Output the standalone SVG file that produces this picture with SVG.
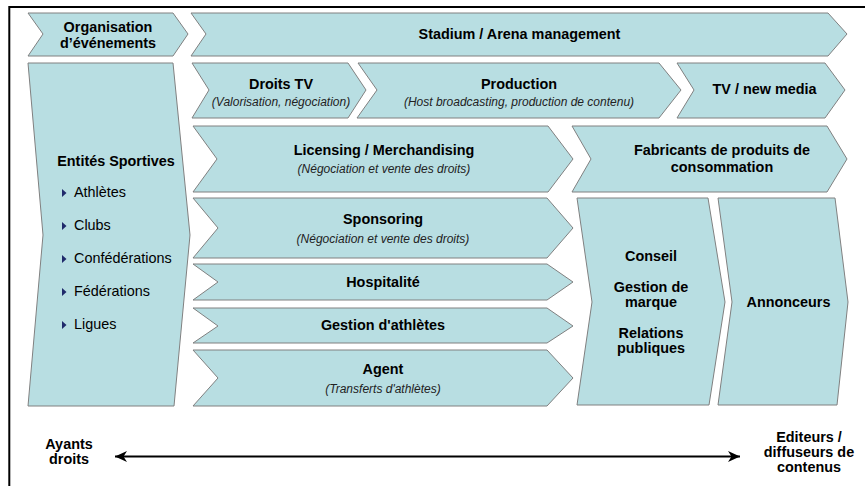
<svg xmlns="http://www.w3.org/2000/svg" width="865" height="486" viewBox="0 0 865 486">
<defs>
<style>
.s{fill:#B8DEE2;stroke:#808080;stroke-width:1}
text{font-family:"Liberation Sans",Arial,sans-serif;fill:#000}
.b{font-weight:bold;font-size:14.4px;text-anchor:middle}
.i{font-style:italic;font-size:12px;fill:#222;text-anchor:middle}
.r{font-size:14.4px}
.bul{fill:#1F2A6B}
</style>
<marker id="ah" viewBox="0 0 12 11" refX="12" refY="5.5" markerWidth="12" markerHeight="11" markerUnits="userSpaceOnUse" orient="auto-start-reverse">
<path d="M0,0 L12,5.5 L0,11 L3.5,5.5 z" fill="#000"/>
</marker>
</defs>
<rect x="0" y="0" width="865" height="486" fill="#fff"/>
<rect x="9.3" y="7" width="880" height="500" fill="none" stroke="#000" stroke-width="2"/>

<g id="organisation">
<polygon class="s" points="28,13 173,13 188,34 173,56 28,56 43,34"/>
<text class="b" x="108" y="32">Organisation</text>
<text class="b" x="108" y="48">d’événements</text>
</g>
<g id="stadium">
<polygon class="s" points="191,13 828,13 847,34 828,56 191,56 206,34"/>
<text class="b" x="519.5" y="39">Stadium / Arena management</text>
</g>
<g id="droits-tv">
<polygon class="s" points="192,63 348,63 366,90 348,118 192,118 209,90"/>
<text class="b" x="281" y="89">Droits TV</text>
<text class="i" x="281" y="106">(Valorisation, négociation)</text>
</g>
<g id="production">
<polygon class="s" points="358,63 659,63 681,90 659,118 357,118 377,90"/>
<text class="b" x="519" y="89">Production</text>
<text class="i" x="519" y="106">(Host broadcasting, production de contenu)</text>
</g>
<g id="tv-new-media">
<polygon class="s" points="677,63 825,63 845,90 825,118 677,118 694,90"/>
<text class="b" x="764.5" y="94">TV / new media</text>
</g>
<g id="entites">
<polygon class="s" points="28,63 173,63 190,235 174,406 28,406 43,235"/>
<text class="b" x="116" y="166">Entités Sportives</text>
<polygon class="bul" points="62,189 62,197 66.5,193"/>
<text class="r" x="74" y="197">Athlètes</text>
<polygon class="bul" points="62,222 62,230 66.5,226"/>
<text class="r" x="74" y="230">Clubs</text>
<polygon class="bul" points="62,255 62,263 66.5,259"/>
<text class="r" x="74" y="263">Confédérations</text>
<polygon class="bul" points="62,288 62,296 66.5,292"/>
<text class="r" x="74" y="296">Fédérations</text>
<polygon class="bul" points="62,321 62,329 66.5,325"/>
<text class="r" x="74" y="329">Ligues</text>
</g>
<g id="licensing">
<polygon class="s" points="193,126 548,126 573,159 548,192 193,192 217,159"/>
<text class="b" x="384" y="155">Licensing / Merchandising</text>
<text class="i" x="384" y="173">(Négociation et vente des droits)</text>
</g>
<g id="fabricants">
<polygon class="s" points="572,126 827,126 847,159 827,192 572,192 591,159"/>
<text class="b" x="722" y="155">Fabricants de produits de</text>
<text class="b" x="722" y="172">consommation</text>
</g>
<g id="sponsoring">
<polygon class="s" points="193,198 547,198 573,228 547,258 193,258 218,228"/>
<text class="b" x="383" y="224">Sponsoring</text>
<text class="i" x="383" y="243">(Négociation et vente des droits)</text>
</g>
<g id="hospitalite">
<polygon class="s" points="193,264 547,264 573,282 547,300 193,300 218,282"/>
<text class="b" x="383" y="287">Hospitalité</text>
</g>
<g id="gestion-athletes">
<polygon class="s" points="193,308 547,308 573,326 547,343 193,343 218,326"/>
<text class="b" x="383" y="330">Gestion d'athlètes</text>
</g>
<g id="agent">
<polygon class="s" points="193,350 547,350 573,378 547,406 193,406 218,378"/>
<text class="b" x="383" y="374">Agent</text>
<text class="i" x="383" y="393">(Transferts d'athlètes)</text>
</g>
<g id="conseil">
<polygon class="s" points="577,198 708,198 725,302 709,405 577,405 592,302"/>
<text class="b" x="651" y="261">Conseil</text>
<text class="b" x="651" y="292">Gestion de</text>
<text class="b" x="651" y="307">marque</text>
<text class="b" x="651" y="338">Relations</text>
<text class="b" x="651" y="353">publiques</text>
</g>
<g id="annonceurs">
<polygon class="s" points="718,198 835,198 848,302 837,405 718,405 732,302"/>
<text class="b" x="788.5" y="307">Annonceurs</text>
</g>
<g id="ayants-droits">
<text class="b" x="69" y="449">Ayants</text>
<text class="b" x="69" y="464">droits</text>
</g>
<g id="editeurs">
<text class="b" x="809" y="442">Editeurs /</text>
<text class="b" x="809" y="457">diffuseurs de</text>
<text class="b" x="809" y="472">contenus</text>
</g>
<g id="connectors">
<line x1="115" y1="456.5" x2="740" y2="456.5" stroke="#000" stroke-width="2" marker-start="url(#ah)" marker-end="url(#ah)"/>
</g>
</svg>
